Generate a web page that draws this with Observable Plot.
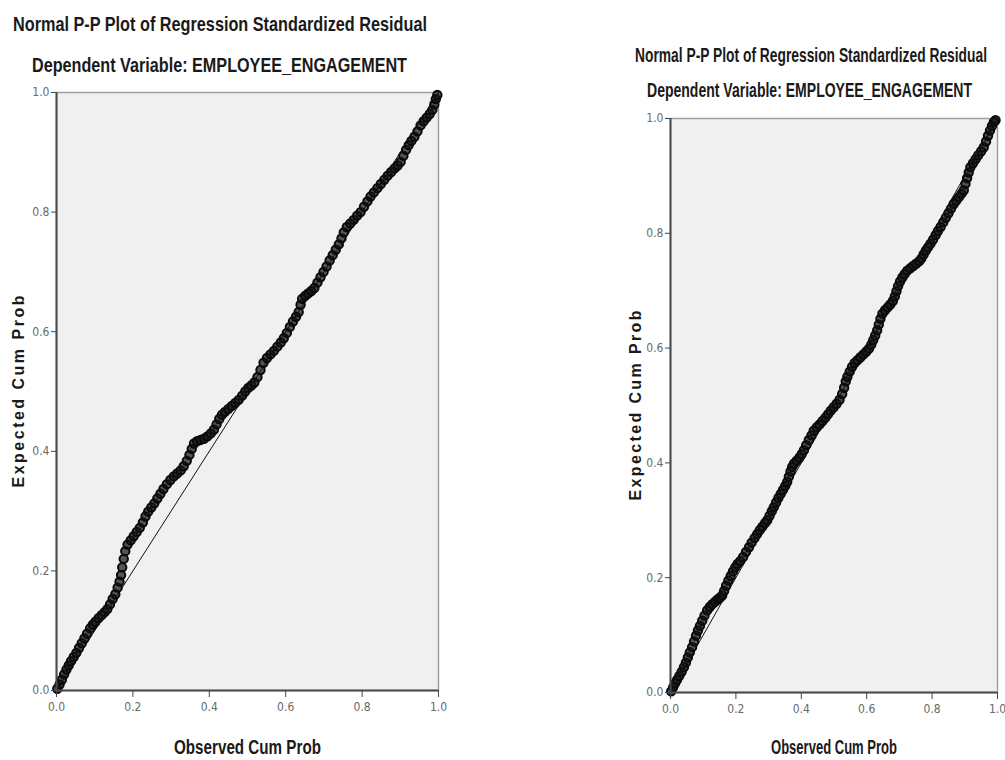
<!DOCTYPE html>
<html><head><meta charset="utf-8">
<script src="https://cdn.jsdelivr.net/npm/d3@7"></script>
<script src="https://cdn.jsdelivr.net/npm/@observablehq/plot@0.6"></script>
<style>
body{margin:0;background:#fff;}
#wrap{position:relative;width:1005px;height:760px;overflow:hidden;background:#fff;}
.t{position:absolute;white-space:nowrap;font-family:"Liberation Sans",Arial,sans-serif;font-weight:bold;color:#1a1a1a;transform-origin:0 50%;line-height:1;}
.panel{position:absolute;}
</style></head><body><div id="wrap"></div>
<script>
const tickValues = [0, 0.2, 0.4, 0.6, 0.8, 1.0];
const titleText = "Normal P-P Plot of Regression Standardized Residual";
const subtitleText = "Dependent Variable: EMPLOYEE_ENGAGEMENT";
const xLabel = "Observed Cum Prob";
const yLabel = "Expected Cum Prob";
const refX = [0, 1];
const refY = [0, 1];

const leftObs = [0.002,0.008,0.014,0.020,0.026,0.032,0.038,0.045,0.052,0.059,0.066,0.073,0.080,0.088,0.095,0.102,0.110,0.118,0.126,0.133,0.140,0.147,0.154,0.160,0.165,0.169,0.172,0.176,0.180,0.186,0.194,0.202,0.210,0.218,0.226,0.233,0.240,0.248,0.256,0.264,0.272,0.280,0.289,0.298,0.307,0.316,0.325,0.333,0.341,0.348,0.354,0.360,0.368,0.377,0.386,0.395,0.404,0.412,0.419,0.426,0.433,0.441,0.450,0.459,0.468,0.477,0.486,0.494,0.502,0.510,0.518,0.526,0.534,0.542,0.551,0.560,0.569,0.578,0.587,0.595,0.603,0.611,0.619,0.627,0.634,0.639,0.643,0.651,0.659,0.667,0.675,0.683,0.691,0.699,0.707,0.715,0.723,0.731,0.739,0.746,0.752,0.760,0.769,0.778,0.787,0.796,0.805,0.814,0.822,0.831,0.840,0.849,0.858,0.867,0.876,0.885,0.893,0.901,0.908,0.915,0.922,0.929,0.937,0.945,0.953,0.961,0.969,0.977,0.984,0.989,0.993,0.997];
const leftExp = [0.003,0.010,0.018,0.027,0.035,0.042,0.049,0.056,0.063,0.071,0.079,0.087,0.095,0.104,0.110,0.115,0.121,0.126,0.131,0.136,0.144,0.153,0.161,0.172,0.182,0.193,0.206,0.220,0.233,0.244,0.251,0.258,0.265,0.272,0.281,0.291,0.299,0.306,0.313,0.321,0.329,0.337,0.345,0.352,0.358,0.363,0.368,0.375,0.384,0.394,0.404,0.413,0.417,0.419,0.421,0.425,0.430,0.436,0.445,0.454,0.461,0.466,0.471,0.476,0.481,0.486,0.493,0.500,0.506,0.510,0.515,0.524,0.536,0.548,0.556,0.562,0.568,0.575,0.582,0.589,0.598,0.608,0.617,0.625,0.633,0.645,0.655,0.660,0.664,0.668,0.673,0.682,0.691,0.700,0.709,0.719,0.728,0.737,0.746,0.756,0.766,0.775,0.781,0.787,0.794,0.800,0.809,0.818,0.826,0.833,0.840,0.847,0.854,0.861,0.867,0.873,0.878,0.884,0.894,0.904,0.912,0.919,0.926,0.935,0.945,0.952,0.958,0.964,0.971,0.980,0.989,0.996];

const rightObs = [0.002,0.008,0.014,0.020,0.027,0.034,0.041,0.047,0.053,0.059,0.066,0.072,0.078,0.084,0.090,0.097,0.104,0.112,0.120,0.128,0.136,0.144,0.151,0.158,0.164,0.170,0.177,0.184,0.191,0.198,0.205,0.213,0.222,0.231,0.240,0.248,0.257,0.265,0.273,0.281,0.289,0.296,0.303,0.310,0.316,0.323,0.330,0.337,0.344,0.351,0.357,0.362,0.367,0.372,0.378,0.386,0.394,0.401,0.408,0.415,0.423,0.431,0.438,0.447,0.456,0.465,0.474,0.482,0.490,0.499,0.508,0.517,0.525,0.531,0.536,0.541,0.548,0.555,0.563,0.572,0.581,0.590,0.599,0.607,0.614,0.620,0.626,0.632,0.637,0.642,0.648,0.656,0.664,0.672,0.680,0.686,0.691,0.696,0.702,0.709,0.716,0.724,0.733,0.742,0.751,0.760,0.767,0.774,0.781,0.788,0.795,0.803,0.811,0.818,0.826,0.834,0.842,0.850,0.858,0.866,0.874,0.882,0.890,0.897,0.902,0.907,0.912,0.917,0.925,0.933,0.941,0.950,0.958,0.965,0.971,0.977,0.983,0.989,0.994];
const rightExp = [0.002,0.009,0.016,0.022,0.029,0.036,0.044,0.052,0.061,0.070,0.079,0.089,0.099,0.108,0.116,0.125,0.134,0.143,0.149,0.154,0.158,0.162,0.165,0.169,0.177,0.186,0.195,0.203,0.211,0.218,0.224,0.229,0.236,0.245,0.253,0.261,0.269,0.276,0.283,0.289,0.295,0.300,0.308,0.316,0.323,0.331,0.339,0.346,0.353,0.360,0.367,0.376,0.385,0.393,0.399,0.404,0.409,0.415,0.422,0.431,0.440,0.448,0.456,0.462,0.467,0.473,0.479,0.485,0.491,0.497,0.503,0.510,0.520,0.531,0.542,0.550,0.559,0.567,0.574,0.579,0.584,0.589,0.594,0.599,0.606,0.614,0.622,0.631,0.641,0.651,0.660,0.666,0.671,0.676,0.682,0.690,0.699,0.708,0.716,0.723,0.729,0.735,0.739,0.743,0.747,0.751,0.756,0.763,0.770,0.776,0.782,0.789,0.797,0.804,0.811,0.819,0.827,0.835,0.843,0.851,0.857,0.863,0.869,0.875,0.886,0.896,0.906,0.915,0.922,0.929,0.936,0.943,0.950,0.960,0.970,0.979,0.987,0.994,0.997];

const wrap = document.getElementById("wrap");
const TICKFONT = '"DejaVu Sans Condensed","Liberation Sans Narrow",sans-serif';

function makePanel(obs, exp, c) {
  const pts = obs.map((x, i) => ({x, y: exp[i]}));
  const ref = refX.map((x, i) => ({x, y: refY[i]}));
  const svg = Plot.plot({
    width: c.width, height: c.height,
    marginLeft: c.ml, marginRight: c.mr, marginTop: c.mt, marginBottom: c.mb,
    style: {background: "transparent", fontFamily: TICKFONT, fontSize: "12px", color: "#6a6a6a", overflow: "visible"},
    x: {domain: [0, 1]},
    y: {domain: [0, 1]},
    marks: [
      Plot.frame({fill: "#f0f0f0", stroke: "#a0a0a0", strokeWidth: 1.5}),
      Plot.line(ref, {x: "x", y: "y", stroke: "#111", strokeWidth: 1}),
      Plot.dot(pts, {x: "x", y: "y", r: 4.2, stroke: "#0a0a0a", strokeWidth: 2, fill: "#111", fillOpacity: 0.7}),
      Plot.axisX({ticks: tickValues, tickFormat: d3.format(".1f"), tickSize: 7, tickPadding: 5, stroke: "#444",
        label: xLabel, labelArrow: false, labelAnchor: "center", labelOffset: c.xlo}),
      Plot.axisY({ticks: tickValues, tickFormat: d3.format(".1f"), tickSize: 5, tickPadding: 2, stroke: "#444",
        label: yLabel, labelArrow: false, labelAnchor: "center", labelOffset: c.ylo}),
      Plot.ruleX([0], {stroke: "#4a4a4a", strokeWidth: 2}),
      Plot.ruleY([0], {stroke: "#4a4a4a", strokeWidth: 2})
    ]
  });
  const div = document.createElement("div");
  div.className = "panel";
  div.style.left = c.left + "px";
  div.style.top = c.top + "px";
  div.appendChild(svg);
  wrap.appendChild(div);
  const yl = svg.querySelector('[aria-label="y-axis label"] text');
  if (yl) {
    yl.textContent = yLabel;
    yl.setAttribute("font-family", '"Liberation Sans",Arial,sans-serif');
    yl.setAttribute("font-weight", "bold");
    yl.setAttribute("font-size", "16");
    yl.setAttribute("fill", "#1a1a1a");
    yl.setAttribute("textLength", c.ylen);
    yl.setAttribute("lengthAdjust", "spacing");
  }
  const xl = svg.querySelector('[aria-label="x-axis label"] text');
  if (xl) {
    xl.textContent = xLabel;
    xl.setAttribute("font-family", '"Liberation Sans",Arial,sans-serif');
    xl.setAttribute("font-weight", "bold");
    xl.setAttribute("font-size", "20");
    xl.setAttribute("fill", "#1a1a1a");
    xl.setAttribute("textLength", c.xlen);
    xl.setAttribute("lengthAdjust", "spacingAndGlyphs");
  }
  return svg;
}

function placeText(str, left, cy, width, size) {
  const s = document.createElement("div");
  s.className = "t";
  s.textContent = str;
  s.style.fontSize = size + "px";
  wrap.appendChild(s);
  const r = s.getBoundingClientRect();
  s.style.left = left + "px";
  s.style.top = (cy - r.height / 2) + "px";
  s.style.transform = "scaleX(" + (width / r.width) + ")";
}

makePanel(leftObs, leftExp, {left: 0, top: 80, width: 460, height: 680, ml: 56, mr: 22, mt: 12, mb: 70, xlo: 63, ylo: 44, ylen: 192, xlen: 147});
makePanel(rightObs, rightExp, {left: 600, top: 100, width: 405, height: 660, ml: 70, mr: 8, mt: 18, mb: 68, xlo: 61, ylo: 41, ylen: 190, xlen: 126});

placeText(titleText, 13, 23, 414, 21);
placeText(subtitleText, 32, 64, 375, 21);
placeText(titleText, 635, 54, 352, 21);
placeText(subtitleText, 647, 89, 325, 21);
</script></body></html>
